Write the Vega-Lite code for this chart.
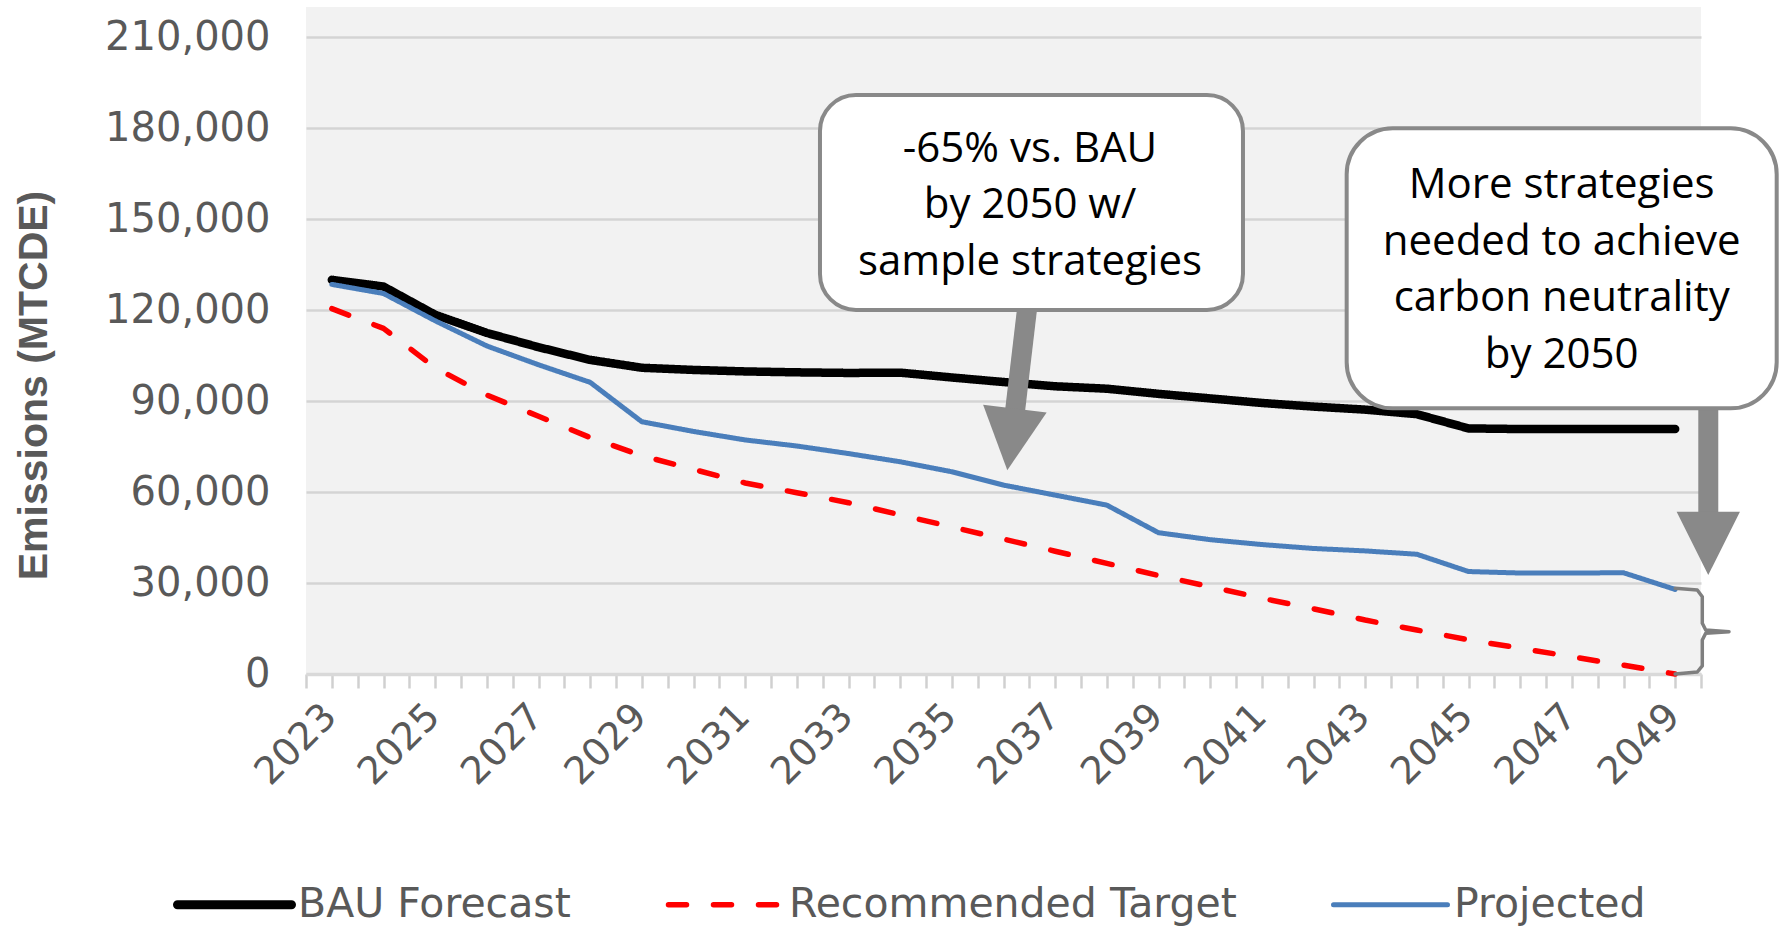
{
  "$schema": "https://vega.github.io/schema/vega-lite/v6.json",
  "width": 1395,
  "height": 667,
  "autosize": {"type": "none"},
  "padding": {"left": 306, "top": 7, "right": 78, "bottom": 252},
  "background": "#ffffff",
  "config": {"view": {"fill": "#f2f2f2", "stroke": null}},
  "datasets": {
    "series": [
      {"series": "BAU Forecast", "year": 2023, "value": 130000},
      {"series": "BAU Forecast", "year": 2024, "value": 127800},
      {"series": "BAU Forecast", "year": 2025, "value": 118500},
      {"series": "BAU Forecast", "year": 2026, "value": 112500},
      {"series": "BAU Forecast", "year": 2027, "value": 107800},
      {"series": "BAU Forecast", "year": 2028, "value": 103600},
      {"series": "BAU Forecast", "year": 2029, "value": 101000},
      {"series": "BAU Forecast", "year": 2030, "value": 100300},
      {"series": "BAU Forecast", "year": 2031, "value": 99800},
      {"series": "BAU Forecast", "year": 2032, "value": 99500},
      {"series": "BAU Forecast", "year": 2033, "value": 99300},
      {"series": "BAU Forecast", "year": 2034, "value": 99400},
      {"series": "BAU Forecast", "year": 2035, "value": 97800},
      {"series": "BAU Forecast", "year": 2036, "value": 96300},
      {"series": "BAU Forecast", "year": 2037, "value": 94900},
      {"series": "BAU Forecast", "year": 2038, "value": 94100},
      {"series": "BAU Forecast", "year": 2039, "value": 92400},
      {"series": "BAU Forecast", "year": 2040, "value": 90900},
      {"series": "BAU Forecast", "year": 2041, "value": 89400},
      {"series": "BAU Forecast", "year": 2042, "value": 88200},
      {"series": "BAU Forecast", "year": 2043, "value": 87200},
      {"series": "BAU Forecast", "year": 2044, "value": 85700},
      {"series": "BAU Forecast", "year": 2045, "value": 81000},
      {"series": "BAU Forecast", "year": 2046, "value": 80800},
      {"series": "BAU Forecast", "year": 2047, "value": 80800},
      {"series": "BAU Forecast", "year": 2048, "value": 80800},
      {"series": "BAU Forecast", "year": 2049, "value": 80800},
      {"series": "Recommended Target", "year": 2023, "value": 120500},
      {"series": "Recommended Target", "year": 2024, "value": 114000},
      {"series": "Recommended Target", "year": 2025, "value": 101000},
      {"series": "Recommended Target", "year": 2026, "value": 92000},
      {"series": "Recommended Target", "year": 2027, "value": 85000},
      {"series": "Recommended Target", "year": 2028, "value": 78000},
      {"series": "Recommended Target", "year": 2029, "value": 72000},
      {"series": "Recommended Target", "year": 2030, "value": 67500},
      {"series": "Recommended Target", "year": 2031, "value": 63000},
      {"series": "Recommended Target", "year": 2032, "value": 59800},
      {"series": "Recommended Target", "year": 2033, "value": 56500},
      {"series": "Recommended Target", "year": 2034, "value": 52500},
      {"series": "Recommended Target", "year": 2035, "value": 48500},
      {"series": "Recommended Target", "year": 2036, "value": 44500},
      {"series": "Recommended Target", "year": 2037, "value": 40500},
      {"series": "Recommended Target", "year": 2038, "value": 36500},
      {"series": "Recommended Target", "year": 2039, "value": 32500},
      {"series": "Recommended Target", "year": 2040, "value": 28800},
      {"series": "Recommended Target", "year": 2041, "value": 25000},
      {"series": "Recommended Target", "year": 2042, "value": 21500},
      {"series": "Recommended Target", "year": 2043, "value": 17800},
      {"series": "Recommended Target", "year": 2044, "value": 14500},
      {"series": "Recommended Target", "year": 2045, "value": 11300},
      {"series": "Recommended Target", "year": 2046, "value": 8500},
      {"series": "Recommended Target", "year": 2047, "value": 5700},
      {"series": "Recommended Target", "year": 2048, "value": 2900},
      {"series": "Recommended Target", "year": 2049, "value": 0},
      {"series": "Projected", "year": 2023, "value": 128500},
      {"series": "Projected", "year": 2024, "value": 125500},
      {"series": "Projected", "year": 2025, "value": 116500},
      {"series": "Projected", "year": 2026, "value": 108200},
      {"series": "Projected", "year": 2027, "value": 102000},
      {"series": "Projected", "year": 2028, "value": 96200},
      {"series": "Projected", "year": 2029, "value": 83200},
      {"series": "Projected", "year": 2030, "value": 80000},
      {"series": "Projected", "year": 2031, "value": 77200},
      {"series": "Projected", "year": 2032, "value": 75200},
      {"series": "Projected", "year": 2033, "value": 72700},
      {"series": "Projected", "year": 2034, "value": 70000},
      {"series": "Projected", "year": 2035, "value": 66700},
      {"series": "Projected", "year": 2036, "value": 62300},
      {"series": "Projected", "year": 2037, "value": 59000},
      {"series": "Projected", "year": 2038, "value": 55700},
      {"series": "Projected", "year": 2039, "value": 46600},
      {"series": "Projected", "year": 2040, "value": 44300},
      {"series": "Projected", "year": 2041, "value": 42700},
      {"series": "Projected", "year": 2042, "value": 41400},
      {"series": "Projected", "year": 2043, "value": 40600},
      {"series": "Projected", "year": 2044, "value": 39500},
      {"series": "Projected", "year": 2045, "value": 33800},
      {"series": "Projected", "year": 2046, "value": 33300},
      {"series": "Projected", "year": 2047, "value": 33300},
      {"series": "Projected", "year": 2048, "value": 33400},
      {"series": "Projected", "year": 2049, "value": 27900}
    ],
    "shafts": [
      {"arrow": "a", "year": 2036.453, "value": 120000, "year2": 2036.221, "value2": 86400},
      {"arrow": "b", "year": 2049.641, "value": 87700, "year2": 2049.641, "value2": 52800}
    ],
    "heads": [
      {"arrow": "a", "year": 2036.147, "value": 77400},
      {"arrow": "b", "year": 2049.641, "value": 43100}
    ],
    "boxes": [
      {"box": 1, "year": 2032.448, "value": 190970, "year2": 2040.635, "value2": 120060},
      {"box": 2, "year": 2042.642, "value": 180000, "year2": 2050.965, "value2": 87640}
    ],
    "notes": [
      {"year": 2036.513, "value": 168980, "label": "-65% vs. BAU\nby 2050 w/\nsample strategies"},
      {"year": 2046.804, "value": 156900, "label": "More strategies\nneeded to achieve\ncarbon neutrality\nby 2050"}
    ],
    "bracket": [
      {"k": 1, "year": 2049.0, "value": 28270},
      {"k": 2, "year": 2049.428, "value": 27710},
      {"k": 3, "year": 2049.525, "value": 25500},
      {"k": 4, "year": 2049.525, "value": 16720},
      {"k": 5, "year": 2049.591, "value": 14510},
      {"k": 6, "year": 2050.042, "value": 13950},
      {"k": 7, "year": 2049.591, "value": 13420},
      {"k": 8, "year": 2049.525, "value": 11210},
      {"k": 9, "year": 2049.525, "value": 2640},
      {"k": 10, "year": 2049.428, "value": 660},
      {"k": 11, "year": 2049.0, "value": 0}
    ]
  },
  "encoding": {
    "x": {
      "field": "year",
      "type": "quantitative",
      "scale": {"domain": [2022.5, 2049.5], "nice": false, "zero": false},
      "axis": {
        "title": null,
        "values": [2022.5, 2023, 2023.5, 2024, 2024.5, 2025, 2025.5, 2026, 2026.5, 2027, 2027.5, 2028, 2028.5, 2029, 2029.5, 2030, 2030.5, 2031, 2031.5, 2032, 2032.5, 2033, 2033.5, 2034, 2034.5, 2035, 2035.5, 2036, 2036.5, 2037, 2037.5, 2038, 2038.5, 2039, 2039.5, 2040, 2040.5, 2041, 2041.5, 2042, 2042.5, 2043, 2043.5, 2044, 2044.5, 2045, 2045.5, 2046, 2046.5, 2047, 2047.5, 2048, 2048.5, 2049, 2049.5],
        "labelExpr": "datum.value % 2 === 1 ? datum.value + '' : ''",
        "labelAngle": -45,
        "labelFont": "DejaVu Sans",
        "labelFontSize": 38,
        "labelColor": "#595959",
        "labelPadding": 9,
        "labelOffset": -15,
        "labelOverlap": false,
        "labelBound": false,
        "labelFlush": false,
        "tickColor": "#d0d0d0",
        "tickSize": 14,
        "tickWidth": 2.5,
        "domainColor": "#d9d9d9",
        "domainWidth": 3.5,
        "grid": false
      }
    },
    "y": {
      "field": "value",
      "type": "quantitative",
      "scale": {"domain": [0, 220000], "nice": false},
      "axis": {
        "title": "Emissions (MTCDE)",
        "values": [0, 30000, 60000, 90000, 120000, 150000, 180000, 210000],
        "labelExpr": "format(datum.value, ',')",
        "labelFont": "DejaVu Sans",
        "labelFontSize": 40,
        "labelColor": "#595959",
        "labelPadding": 36,
        "ticks": false,
        "domain": false,
        "grid": true,
        "gridColor": "#d4d4d4",
        "gridWidth": 2.5,
        "titleFont": "Liberation Sans",
        "titleFontSize": 41,
        "titleFontWeight": "bold",
        "titleColor": "#595959",
        "titleAngle": 270,
        "titleAlign": "center",
        "titleBaseline": "middle",
        "titleX": -272,
        "titleY": 378
      }
    }
  },
  "layer": [
    {
      "data": {"name": "series"},
      "mark": {"type": "line", "strokeCap": "round", "strokeJoin": "round"},
      "encoding": {
        "color": {
          "field": "series",
          "type": "nominal",
          "scale": {"domain": ["BAU Forecast", "Recommended Target", "Projected"], "range": ["#000000", "#ff0000", "#4a7ebb"]},
          "legend": {
            "title": null,
            "orient": "none",
            "direction": "horizontal",
            "legendX": -92,
            "legendY": 877,
            "symbolType": "stroke",
            "symbolSize": 12996,
            "symbolStrokeWidth": 5,
            "labelFont": "DejaVu Sans",
            "labelFontSize": 41,
            "labelColor": "#595959",
            "labelOffset": 43,
            "labelLimit": 1000,
            "columnPadding": 86,
            "padding": 0,
            "encode": {
              "symbols": {
                "update": {
                  "strokeWidth": {"signal": "datum.value === 'BAU Forecast' ? 9 : (datum.value === 'Projected' ? 5 : 5.5)"},
                  "strokeCap": {"value": "round"}
                }
              }
            }
          }
        },
        "strokeDash": {
          "field": "series",
          "type": "nominal",
          "scale": {"domain": ["BAU Forecast", "Recommended Target", "Projected"], "range": [[1, 0], [18, 27], [1, 0]]}
        },
        "strokeWidth": {
          "condition": [
            {"test": "datum.series === 'BAU Forecast'", "value": 8.5},
            {"test": "datum.series === 'Projected'", "value": 5}
          ],
          "value": 5.5
        }
      }
    },
    {
      "data": {"name": "shafts"},
      "mark": {"type": "rule", "color": "#898989", "strokeWidth": 20, "strokeCap": "butt"},
      "encoding": {"x2": {"field": "year2"}, "y2": {"field": "value2"}}
    },
    {
      "data": {"name": "heads"},
      "transform": [{"filter": "datum.arrow === 'a'"}],
      "mark": {"type": "point", "shape": "M-1,-0.97L1,-0.97L0,0.97Z", "filled": true, "fill": "#898989", "opacity": 1, "size": 4096, "angle": 7, "strokeWidth": 0}
    },
    {
      "data": {"name": "heads"},
      "transform": [{"filter": "datum.arrow === 'b'"}],
      "mark": {"type": "point", "shape": "M-1,-1L1,-1L0,1Z", "filled": true, "fill": "#898989", "opacity": 1, "size": 4007, "angle": 0, "strokeWidth": 0}
    },
    {
      "data": {"name": "boxes"},
      "transform": [{"filter": "datum.box === 1"}],
      "mark": {"type": "rect", "fill": "#ffffff", "stroke": "#898989", "strokeWidth": 4, "cornerRadius": 36},
      "encoding": {"x2": {"field": "year2"}, "y2": {"field": "value2"}}
    },
    {
      "data": {"name": "boxes"},
      "transform": [{"filter": "datum.box === 2"}],
      "mark": {"type": "rect", "fill": "#ffffff", "stroke": "#898989", "strokeWidth": 4, "cornerRadius": 46},
      "encoding": {"x2": {"field": "year2"}, "y2": {"field": "value2"}}
    },
    {
      "data": {"name": "notes"},
      "mark": {"type": "text", "font": "Open Sans", "fontSize": 42, "lineHeight": 56.5, "lineBreak": "\n", "align": "center", "baseline": "alphabetic", "color": "#000000"},
      "encoding": {"text": {"field": "label", "type": "nominal"}}
    },
    {
      "data": {"name": "bracket"},
      "mark": {"type": "line", "color": "#7f7f7f", "strokeWidth": 3.5, "strokeJoin": "round", "strokeCap": "round"},
      "encoding": {"order": {"field": "k", "type": "quantitative"}}
    }
  ]
}
